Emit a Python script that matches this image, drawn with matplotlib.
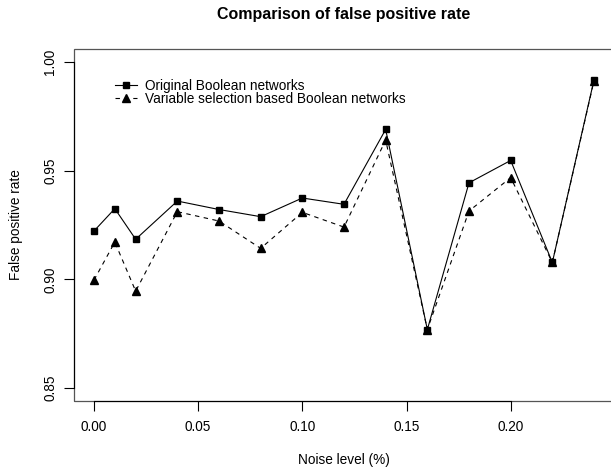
import numpy as np
import matplotlib
matplotlib.use("Agg")
import matplotlib.pyplot as plt
from matplotlib.patches import Rectangle

plt.rcParams['font.family'] = ['Liberation Sans', 'DejaVu Sans']

# Noise level and false positive rates
noise = [0.00, 0.01, 0.02, 0.04, 0.06, 0.08, 0.10, 0.12, 0.14, 0.16, 0.18, 0.20, 0.22, 0.24]
original = [0.9223, 0.9326, 0.9185, 0.9361, 0.9322, 0.9289, 0.9375, 0.9346,
            0.9691, 0.8769, 0.9445, 0.9548, 0.9078, 0.9919]
varsel = [0.8997, 0.9172, 0.8946, 0.9312, 0.9269, 0.9143, 0.9309, 0.9241,
          0.9642, 0.8769, 0.9315, 0.9469, 0.9078, 0.9915]
xticks = [0.00, 0.05, 0.10, 0.15, 0.20]
yticks = [0.85, 0.90, 0.95, 1.00]

fs = 9.8
fig = plt.figure(figsize=(6.11, 4.71), dpi=100)
# axes runs slightly past the right edge, like the cropped R plot
ax = fig.add_axes([74 / 611, 70 / 471, 540 / 611, 351.7 / 471])

ax.plot(noise, original, '-', color='black', lw=0.8, marker='s', ms=5,
        label="Original Boolean networks")
ax.plot(noise, varsel, color='black', lw=0.8, ls=(0, (4, 4)), marker='^', ms=5.5,
        label="Variable selection based Boolean networks")

ax.set_xlim(-0.0096, 0.2496)
ax.set_ylim(0.844, 1.006)
ax.set_xticks(xticks)
ax.set_xticklabels(["%.2f" % v for v in xticks], fontsize=fs)
ax.set_yticks(yticks)
ax.set_yticklabels(["%.2f" % v for v in yticks], fontsize=fs, rotation=90, va='center')
ax.tick_params(direction='out', length=7, width=0.8, color='black')
ax.tick_params(axis='x', pad=7)
ax.tick_params(axis='y', pad=5)

for s in ['top', 'right']:
    ax.spines[s].set_visible(False)
ax.spines['bottom'].set_bounds(0.0, 0.20)
ax.spines['left'].set_bounds(0.85, 1.00)
for s in ['bottom', 'left']:
    ax.spines[s].set_linewidth(0.8)
ax.add_patch(Rectangle((0, 0), 1, 1, transform=ax.transAxes, fill=False,
                       edgecolor='#555555', lw=0.9, clip_on=False, zorder=0))

fig.text(344 / 611, 1 - 15 / 471, "Comparison of false positive rate",
         ha='center', va='center', fontsize=11.5, fontweight='bold')
fig.text(344 / 611, 1 - 460 / 471, "Noise level (%)", ha='center', va='center', fontsize=fs)
fig.text(16 / 611, 1 - 225 / 471, "False positive rate", ha='center', va='center',
         fontsize=fs, rotation=90)

ax.legend(loc='upper left', bbox_to_anchor=(115 / 611, 1 - 79 / 471),
          bbox_transform=fig.transFigure, frameon=False, fontsize=fs,
          numpoints=1, handlelength=1.6, handletextpad=0.6, labelspacing=-0.1,
          borderpad=0, borderaxespad=0)

fig.savefig("out.png", dpi=100)
